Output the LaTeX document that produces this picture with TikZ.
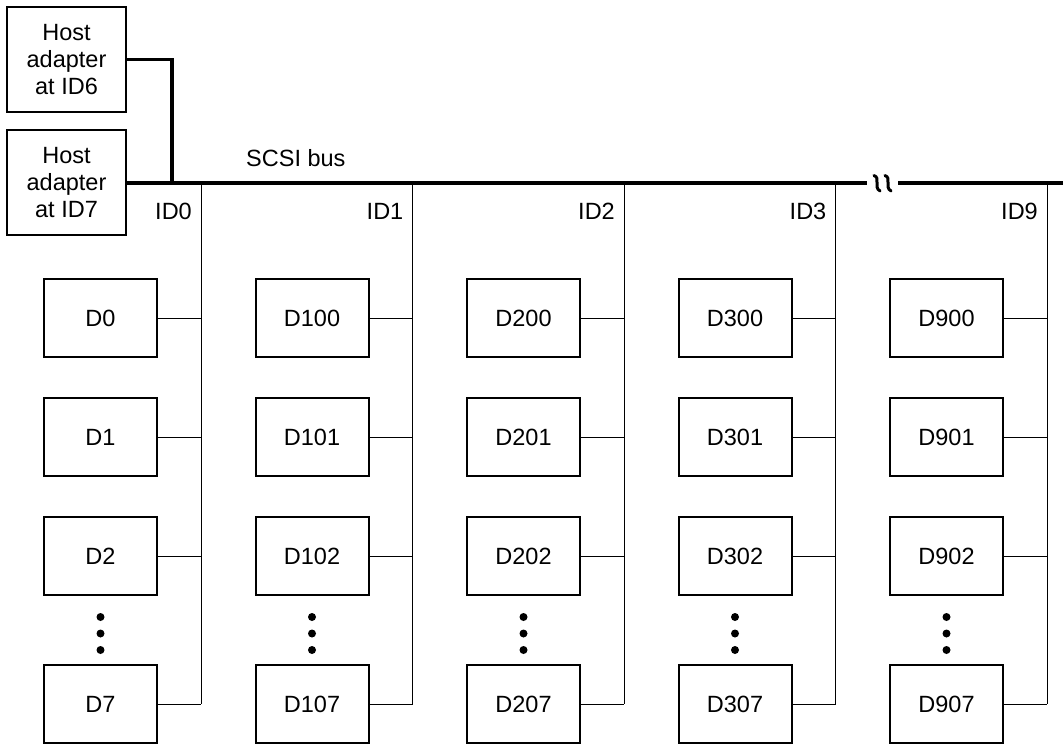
\documentclass[tikz,border=0pt]{standalone}
\usepackage{fontspec}
\setmainfont{Liberation Sans}
\begin{document}
\begin{tikzpicture}[x=1pt,y=-1pt,font=\fontsize{23.5}{27}\selectfont,
  dev/.style={draw,line width=2pt,minimum width=113pt,minimum height=78pt,inner sep=0pt},
  host/.style={draw,line width=2pt,minimum width=119pt,minimum height=105pt,align=center,inner sep=0pt},
  bus/.style={line width=4pt},
  wire/.style={line width=1pt},
  lbl/.style={inner sep=0pt},
  dot/.style={circle,fill,inner sep=0pt,minimum size=8pt},
  squig/.style={line width=3pt,line cap=round}]
\useasboundingbox (0,0) rectangle (1063,744);
% host adapters
\node[host] (h6) at (66.5,59.5) {Host\\adapter\\at ID6};
\node[host] (h7) at (66.5,182.5) {Host\\adapter\\at ID7};
% bus
\coordinate (bk1) at (867,182.5);
\coordinate (bk2) at (898,182.5);
\coordinate (bend) at (1063,182.5);
\coordinate (j6) at (172,182.5);
\draw[bus] (h7.east) -- (bk1);
\draw[bus] (bk2) -- (bend);
\draw[line width=3.5pt] (h6.east) -| (j6);
\draw[squig] (874,175.5) .. controls (881,178) and (873,187) .. (880,191);
\draw[squig] (885,175.5) .. controls (892,178) and (884,187) .. (891,191);
\node[lbl,anchor=west] (bus) at (246,158) {SCSI bus};
% columns
\foreach \i/\n in {0/0,1/1,2/2,3/3,4/9}{
  \pgfmathsetmacro{\lx}{44+211.5*\i}
  \pgfmathsetmacro{\cx}{\lx+56.5}
  \pgfmathsetmacro{\vx}{\lx+157}
  \coordinate (top\n) at (\vx,182.5);
  \coordinate (bot\n) at (\vx,704);
  \draw[wire] (top\n) -- (bot\n);
  \node[lbl,anchor=east] (id\n) at (\vx-9,211) {ID\n};
  \foreach \r/\y in {0/318,1/437,2/556,7/704}{
    \node[dev] (d\n-\r) at (\cx,\y) {\ifnum\n=0 D\r\else D\n0\r\fi};
    \draw[wire] (d\n-\r.east) -- (d\n-\r.east -| top\n);
  }
  \node[dot] (dt\n-a) at (\cx,617) {};
  \node[dot] (dt\n-b) at (\cx,633.5) {};
  \node[dot] (dt\n-c) at (\cx,650) {};
}
\end{tikzpicture}
\end{document}
